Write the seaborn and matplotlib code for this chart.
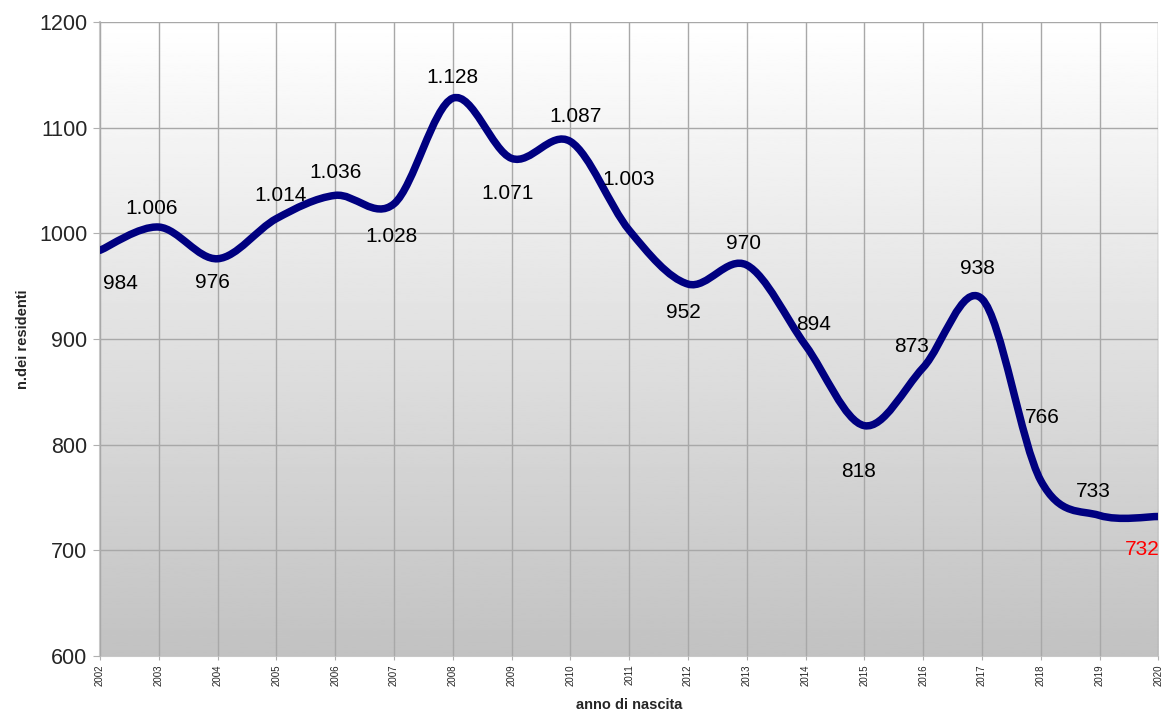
import matplotlib.pyplot as plt
import numpy as np
import seaborn as sns
from matplotlib.path import Path
from matplotlib.patches import PathPatch

years = list(range(2002, 2021))
residenti = [984, 1006, 976, 1014, 1036, 1028, 1128, 1071, 1087, 1003,
             952, 970, 894, 818, 873, 938, 766, 733, 732]
etichette = ["984", "1.006", "976", "1.014", "1.036", "1.028", "1.128", "1.071",
             "1.087", "1.003", "952", "970", "894", "818", "873", "938",
             "766", "733", "732"]
# label offsets in pixels (dx, dy)
offsets = [(20, -33), (-7, 19), (-5, -24), (4, 23), (0, 23), (-2, -33),
           (0, 21), (-4, -35), (5, 25), (-1, 51), (-5, -28), (-3, 22),
           (8, 21), (-6, -46), (-12, 21), (-5, 30), (2, 63), (-6, 24),
           (-16, -33)]

sns.set_style("white")
plt.rcParams["font.family"] = ["Liberation Sans", "DejaVu Sans"]

fig = plt.figure(figsize=(11.63, 7.13), dpi=100)
ax = fig.add_axes([0.086, 0.080, 0.910, 0.889])

# gradient background (white at top -> gray at bottom)
grad = np.linspace(1.0, 0.76, 256).reshape(-1, 1)
ax.imshow(grad, cmap="gray", vmin=0, vmax=1, aspect="auto",
          extent=[0, 1, 0, 1], transform=ax.transAxes, zorder=0)

# smooth curve (Catmull-Rom as cubic bezier through the data points)
pts = np.column_stack([years, residenti]).astype(float)
verts = [pts[0]]
codes = [Path.MOVETO]
n = len(pts)
for i in range(n - 1):
    p0 = pts[max(i - 1, 0)]
    p1 = pts[i]
    p2 = pts[i + 1]
    p3 = pts[min(i + 2, n - 1)]
    verts += [p1 + (p2 - p0) / 6, p2 - (p3 - p1) / 6, p2]
    codes += [Path.CURVE4] * 3
ax.add_patch(PathPatch(Path(verts, codes), facecolor="none", edgecolor="#000080",
                       lw=5.4, capstyle="round", joinstyle="round", zorder=3))

for x, y, t, (dx, dy) in zip(years, residenti, etichette, offsets):
    ax.annotate(t, (x, y), xytext=(dx, dy), textcoords="offset pixels",
                ha="center", va="center", fontsize=15,
                color="red" if x == 2020 else "black", zorder=4)

ax.set_xlim(2002, 2020)
ax.set_ylim(600, 1200)
ax.set_xticks(years)
ax.set_xticklabels([str(y) for y in years], rotation=90, fontsize=7)
ax.set_yticks(range(600, 1201, 100))
ax.tick_params(axis="y", labelsize=15.5, length=5, color="#b0b0b0", left=True, pad=4)
ax.tick_params(axis="x", length=3, color="#b0b0b0", bottom=True, pad=3)
ax.grid(True, color="#a8a8a8", lw=1, zorder=1)
ax.set_axisbelow(False)
for g in ax.get_xgridlines() + ax.get_ygridlines():
    g.set_zorder(1)
for s in ["top", "right"]:
    ax.spines[s].set_visible(False)
for s in ["left", "bottom"]:
    ax.spines[s].set_color("#c8c8c8")
    ax.spines[s].set_linewidth(1.5)

ax.set_ylabel("n.dei residenti", fontsize=10.5, fontweight="bold")
ax.yaxis.set_label_coords(-0.066, 0.5)
ax.set_xlabel("anno di nascita", fontsize=10.5, fontweight="bold", labelpad=9)

fig.savefig("out.png", dpi=100)
